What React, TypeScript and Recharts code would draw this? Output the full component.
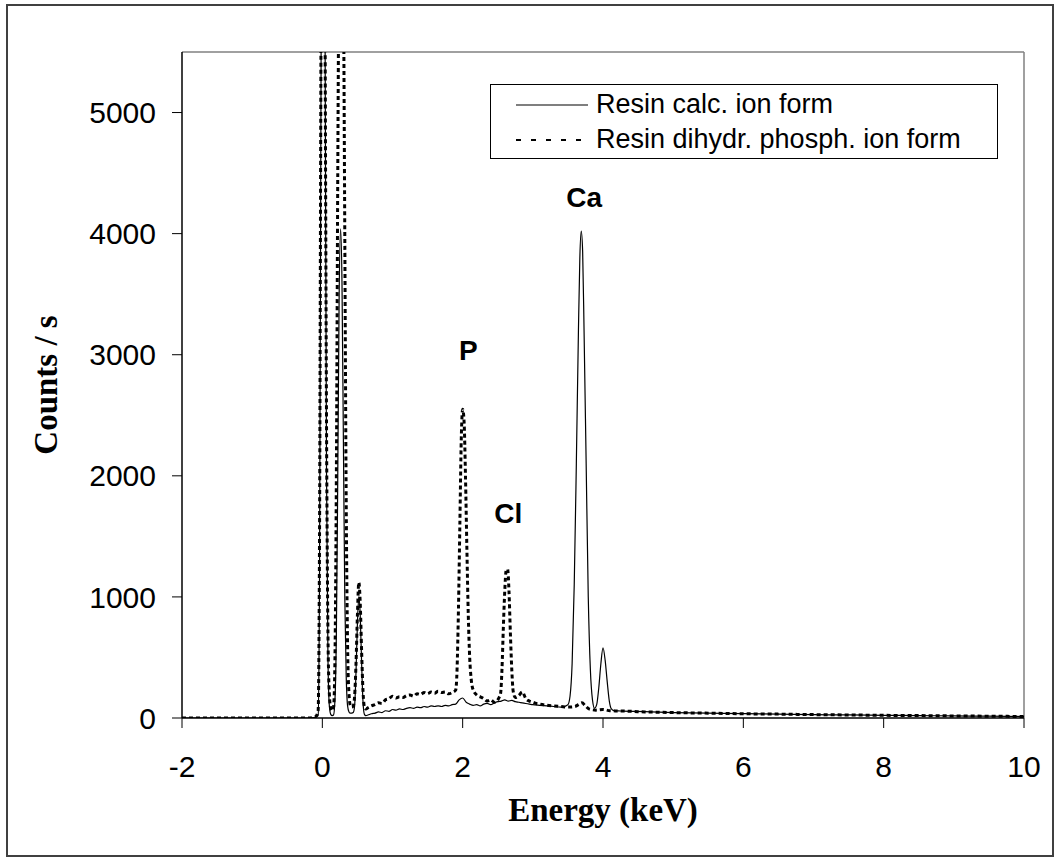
import {
    Label,
    Legend,
    Line,
    LineChart,
    ReferenceDot,
    ReferenceLine,
    XAxis,
    YAxis,
} from "recharts";

// EDX spectra (energy in keV, counts / s)
const calcEnergy = [
    -2, -0.2, -0.1, -0.06, -0.04, -0.02, 0, 0.02, 0.04, 0.06, 0.08, 0.1, 0.12, 0.14,
    0.16, 0.18, 0.2, 0.22, 0.24, 0.26, 0.28, 0.3, 0.32, 0.34, 0.36, 0.38, 0.4, 0.42,
    0.44, 0.46, 0.48, 0.5, 0.52, 0.54, 0.56, 0.58, 0.6, 0.62, 0.65, 0.7, 0.75, 0.8,
    0.85, 0.9, 0.95, 1.0, 1.05, 1.1, 1.15, 1.2, 1.25, 1.3, 1.35, 1.4, 1.45, 1.5, 1.55,
    1.6, 1.65, 1.7, 1.75, 1.8, 1.85, 1.9, 1.95, 2.0, 2.05, 2.1, 2.15, 2.2, 2.25, 2.3,
    2.35, 2.4, 2.45, 2.5, 2.55, 2.6, 2.65, 2.7, 2.75, 2.8, 2.85, 2.9, 2.95, 3.0, 3.1,
    3.2, 3.3, 3.4, 3.45, 3.5, 3.53, 3.56, 3.59, 3.62, 3.65, 3.67, 3.69, 3.71, 3.73,
    3.76, 3.79, 3.82, 3.85, 3.88, 3.91, 3.94, 3.97, 4.0, 4.03, 4.06, 4.09, 4.12, 4.16,
    4.25, 4.4, 4.6, 4.8, 5.0, 5.5, 6.0, 6.5, 7.0, 7.5, 8.0, 8.5, 9.0, 9.5, 10,
];
const calcCounts = [
    0, 0, 5, 20, 1200, 5000, 8500, 9000, 5500, 2000, 500, 100, 30, 20,
    25, 150, 700, 2000, 3500, 4040, 3600, 2300, 1000, 350, 100, 50, 40, 40,
    45, 100, 380, 780, 1000, 850, 450, 130, 30, 20, 25, 35, 40, 50,
    45, 60, 55, 70, 65, 75, 70, 80, 85, 80, 90, 85, 95, 90, 100,
    95, 100, 95, 105, 100, 110, 115, 150, 165, 130, 115, 105, 110, 100, 115,
    120, 110, 125, 135, 140, 150, 140, 145, 135, 130, 125, 120, 115, 110, 105,
    100, 95, 90, 95, 110, 180, 450, 1100, 2100, 3200, 3800, 4020, 3850, 3200,
    2100, 1000, 400, 150, 80, 110, 250, 450, 580, 480, 300, 140, 75, 60,
    58, 55, 52, 48, 45, 40, 36, 32, 28, 25, 22, 20, 17, 15, 12,
];

const phosEnergy = [
    -2, -0.2, -0.1, -0.06, -0.04, -0.02, 0, 0.02, 0.04, 0.06, 0.08, 0.1, 0.12, 0.14,
    0.16, 0.18, 0.2, 0.22, 0.24, 0.26, 0.28, 0.3, 0.32, 0.34, 0.36, 0.38, 0.4, 0.42,
    0.44, 0.46, 0.48, 0.5, 0.52, 0.54, 0.56, 0.58, 0.6, 0.62, 0.65, 0.7, 0.75, 0.8,
    0.85, 0.9, 0.95, 1.0, 1.05, 1.1, 1.15, 1.2, 1.25, 1.3, 1.35, 1.4, 1.45, 1.5, 1.55,
    1.6, 1.65, 1.7, 1.75, 1.8, 1.85, 1.9, 1.92, 1.94, 1.96, 1.98, 2.0, 2.02, 2.04,
    2.06, 2.08, 2.1, 2.12, 2.14, 2.2, 2.25, 2.3, 2.35, 2.4, 2.45, 2.5, 2.52, 2.54,
    2.56, 2.58, 2.6, 2.62, 2.64, 2.66, 2.68, 2.7, 2.72, 2.75, 2.8, 2.85, 2.9, 2.95,
    3.0, 3.05, 3.1, 3.2, 3.3, 3.4, 3.5, 3.6, 3.65, 3.7, 3.75, 3.8, 3.9, 4.0, 4.1,
    4.25, 4.4, 4.6, 4.8, 5.0, 5.5, 6.0, 6.5, 7.0, 7.5, 8.0, 8.5, 9.0, 9.5, 10,
];
const phosCounts = [
    0, 0, 10, 60, 1500, 5500, 9000, 9500, 5600, 2400, 700, 200, 80, 60,
    90, 500, 2000, 4500, 6500, 7500, 7500, 6200, 4000, 1800, 600, 200, 100, 90,
    100, 180, 450, 850, 1120, 950, 550, 220, 90, 75, 85, 100, 110, 125,
    120, 150, 160, 180, 165, 175, 170, 185, 190, 180, 200, 195, 210, 200, 215,
    205, 220, 210, 215, 200, 210, 230, 400, 900, 1600, 2300, 2550, 2450, 2000,
    1400, 850, 500, 330, 250, 190, 175, 160, 140, 150, 130, 150, 170, 200,
    400, 750, 1050, 1220, 1230, 1050, 700, 400, 220, 170, 185, 215, 160, 140,
    130, 120, 115, 105, 100, 95, 90, 95, 110, 125, 100, 75, 65, 70, 60,
    58, 55, 50, 48, 45, 40, 35, 32, 28, 25, 22, 20, 17, 15, 12,
];

const xTicks = [-2, 0, 2, 4, 6, 8, 10];
const xMinorTicks = [
    -2, -1.6, -1.2, -0.8, -0.4, 0, 0.4, 0.8, 1.2, 1.6, 2, 2.4, 2.8, 3.2, 3.6, 4,
    4.4, 4.8, 5.2, 5.6, 6, 6.4, 6.8, 7.2, 7.6, 8, 8.4, 8.8, 9.2, 9.6, 10,
];
const yTicks = [0, 1000, 2000, 3000, 4000, 5000];

const seriesNames = ["Resin calc. ion form", "Resin dihydr. phosph. ion form"];

const peakLabels = [
    { name: "Ca", e: 3.73, c: 4300 },
    { name: "P", e: 2.08, c: 3040 },
    { name: "Cl", e: 2.65, c: 1690 },
];

const calcData = calcEnergy.map((e, i) => ({ e, counts: calcCounts[i] }));
const phosData = phosEnergy.map((e, i) => ({ e, counts: phosCounts[i] }));

const sans = "'Liberation Sans', Arial, sans-serif";
const serif = "'Liberation Serif', 'Times New Roman', serif";

function LegendBox() {
    return (
        <div
            style={{
                boxSizing: "border-box",
                width: 508,
                height: 75,
                border: "1px solid #000",
                background: "#fff",
                fontFamily: sans,
                fontSize: 27,
                color: "#000",
                paddingTop: 2,
            }}
        >
            {seriesNames.map((name, i) => (
                <div key={name} style={{ display: "flex", alignItems: "center", height: 35 }}>
                    <svg width={105} height={20} style={{ flexShrink: 0 }}>
                        <line
                            x1={25}
                            x2={97}
                            y1={10}
                            y2={10}
                            stroke="#000"
                            strokeWidth={i === 0 ? 1.2 : 2}
                            strokeDasharray={i === 0 ? undefined : "5 10"}
                        />
                    </svg>
                    <span style={{ whiteSpace: "nowrap" }}>{name}</span>
                </div>
            ))}
        </div>
    );
}

export default function App() {
    return (
        <div style={{ position: "absolute", left: 0, top: 0, width: 1061, height: 863, background: "#fff" }}>
            <div
                style={{
                    position: "absolute",
                    left: 6,
                    top: 4,
                    width: 1048,
                    height: 853,
                    boxSizing: "border-box",
                    border: "2px solid #404040",
                }}
            />
            <LineChart width={1061} height={863} margin={{ top: 52, right: 37, bottom: 143, left: 42 }}>
                <XAxis
                    xAxisId="minor"
                    dataKey="e"
                    type="number"
                    domain={[-2, 10]}
                    allowDataOverflow
                    ticks={xMinorTicks}
                    interval={0}
                    tick={false}
                    tickSize={7}
                    tickLine={{ stroke: "#000", strokeWidth: 1 }}
                    axisLine={false}
                    height={1}
                />
                <XAxis
                    dataKey="e"
                    type="number"
                    domain={[-2, 10]}
                    allowDataOverflow
                    ticks={xTicks}
                    interval={0}
                    tickSize={10}
                    tickMargin={28}
                    tick={{ fontSize: 30, fontFamily: sans, fill: "#000" }}
                    tickLine={{ stroke: "#000", strokeWidth: 1 }}
                    axisLine={{ stroke: "#000", strokeWidth: 1.5 }}
                    height={1}
                >
                    <Label
                        value="Energy (keV)"
                        position="bottom"
                        offset={79}
                        style={{ fontFamily: serif, fontWeight: "bold", fontSize: 33, fill: "#000" }}
                    />
                </XAxis>
                <YAxis
                    dataKey="counts"
                    type="number"
                    domain={[0, 5500]}
                    allowDataOverflow
                    ticks={yTicks}
                    interval={0}
                    width={140}
                    tickSize={10}
                    tickMargin={16}
                    tick={{ fontSize: 30, fontFamily: sans, fill: "#000" }}
                    tickLine={{ stroke: "#000", strokeWidth: 1 }}
                    axisLine={{ stroke: "#000", strokeWidth: 1.5 }}
                >
                    <Label
                        value="Counts / s"
                        angle={-90}
                        position="insideLeft"
                        offset={3}
                        style={{ textAnchor: "middle", fontFamily: serif, fontWeight: "bold", fontSize: 33, fill: "#000" }}
                    />
                </YAxis>
                <ReferenceLine y={5500} stroke="#808080" strokeWidth={1.5} />
                <ReferenceLine x={10} stroke="#808080" strokeWidth={1.5} />
                <Legend
                    layout="horizontal"
                    verticalAlign="middle"
                    align="center"
                    wrapperStyle={{ left: 490, top: 84, width: 508 }}
                    content={() => <LegendBox />}
                />
                <Line
                    data={calcData}
                    dataKey="counts"
                    name={seriesNames[0]}
                    type="monotone"
                    stroke="#000"
                    strokeWidth={1.2}
                    dot={false}
                    activeDot={false}
                    isAnimationActive={false}
                />
                <Line
                    data={phosData}
                    dataKey="counts"
                    name={seriesNames[1]}
                    type="monotone"
                    stroke="#000"
                    strokeWidth={3}
                    strokeDasharray="4 3"
                    dot={false}
                    activeDot={false}
                    isAnimationActive={false}
                />
                {peakLabels.map((p) => (
                    <ReferenceDot key={p.name} x={p.e} y={p.c} r={0} stroke="none" fill="none">
                        <Label
                            value={p.name}
                            position="center"
                            style={{ fontFamily: sans, fontWeight: "bold", fontSize: 28, fill: "#000" }}
                        />
                    </ReferenceDot>
                ))}
            </LineChart>
        </div>
    );
}
